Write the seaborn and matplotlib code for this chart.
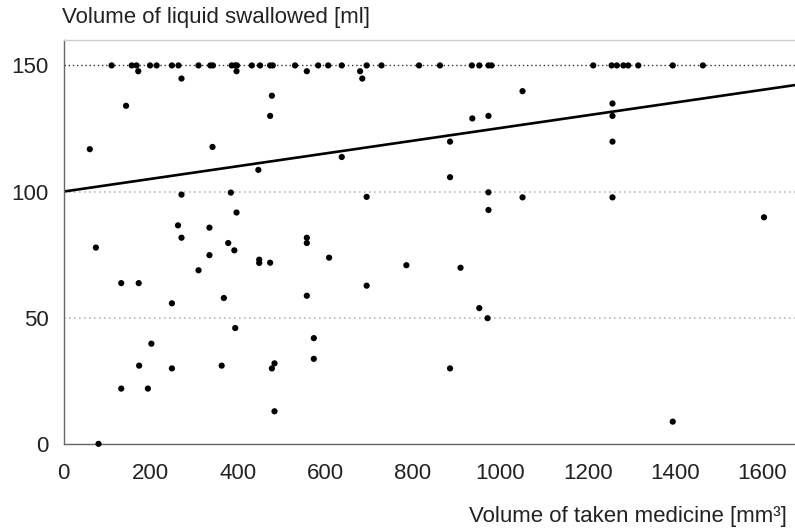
import matplotlib
matplotlib.use("Agg")
import matplotlib.pyplot as plt
import seaborn as sns
import numpy as np
import pandas as pd

# Data
medicine_top = [110, 156, 167, 198, 213, 248, 263, 309, 336, 342, 385, 393, 397,
                431, 450, 473, 479, 530, 583, 606, 637, 694, 728, 814, 862, 935,
                952, 973, 980, 1213, 1255, 1267, 1282, 1293, 1316, 1395, 1464]
liquid_top = [150] * len(medicine_top)

medicine_rest = [171, 270, 396, 557, 679, 684, 143, 477, 473, 60, 341, 637, 446,
                 270, 383, 396, 694,
                 1051, 936, 973, 1257, 1257, 1257, 885, 885, 973, 973, 1051, 1257, 1604,
                 74, 262, 334, 270, 377, 391, 334, 309, 448, 448, 473, 557, 557, 608,
                 785, 694, 557, 132, 172, 248, 367, 393, 573, 201, 173, 248, 362, 483,
                 477, 573, 132, 193, 483, 80,
                 909, 952, 971, 885, 1395]
liquid_rest = [147.7, 144.8, 147.7, 147.7, 147.7, 144.8, 134, 138, 130, 116.8, 117.7, 113.7, 108.6,
               98.8, 99.6, 91.7, 97.9,
               139.8, 129, 130, 134.9, 130, 119.8, 119.8, 105.7, 99.7, 92.7, 97.7, 97.7, 89.8,
               77.8, 86.6, 85.7, 81.7, 79.6, 76.7, 74.8, 68.8, 73, 71.7, 71.8, 81.7, 79.6, 73.8,
               70.8, 62.7, 58.7, 63.7, 63.7, 55.7, 57.8, 45.9, 41.9, 39.7, 31, 29.9, 31, 31.9,
               29.9, 33.7, 21.9, 21.9, 12.9, 0,
               69.8, 53.8, 49.8, 29.9, 8.8]

medicine = medicine_top + medicine_rest
liquid = liquid_top + liquid_rest

line_intercept = 100.0
line_slope = 0.0252

x_ticks = [0, 200, 400, 600, 800, 1000, 1200, 1400, 1600]
y_ticks = [0, 50, 100, 150]

df = pd.DataFrame({"medicine": medicine, "liquid": liquid})

sns.set_style("white")
plt.rcParams['font.family'] = ['Liberation Sans', 'DejaVu Sans']

fig = plt.figure(figsize=(7.95, 5.29), dpi=100)
ax = fig.add_axes([0.080, 0.161, 0.920, 0.763])

# gridlines
ax.axhline(50, color="#b8b8b8", lw=1.2, ls=(0, (1, 2)), zorder=1)
ax.axhline(100, color="#b8b8b8", lw=1.2, ls=(0, (1, 2)), zorder=1)
ax.axhline(150, color="#333333", lw=1.0, ls=(0, (1, 2)), zorder=1)

sns.scatterplot(data=df, x="medicine", y="liquid", ax=ax, color="black",
                s=20, edgecolor="none", zorder=3, clip_on=False)

xl = np.array([0, 1680])
sns.lineplot(x=xl, y=line_intercept + line_slope * xl, ax=ax, color="black",
             lw=1.9, zorder=2)

ax.set_xlim(0, 1675)
ax.set_ylim(0, 160)
ax.set_xticks(x_ticks)
ax.set_yticks(y_ticks)
ax.tick_params(axis="x", direction="out", length=8, width=1, color="#666666",
               labelsize=16, pad=6, labelcolor="#222222")
ax.tick_params(axis="y", length=0, labelsize=16, pad=11, labelcolor="#222222")

for side in ["left", "bottom"]:
    ax.spines[side].set_color("#666666")
    ax.spines[side].set_linewidth(1.0)
ax.spines["top"].set_color("#cccccc")
ax.spines["top"].set_linewidth(1.0)
ax.spines["right"].set_visible(False)

ax.set_xlabel("")
ax.set_ylabel("")
fig.text(0.078, 0.966, "Volume of liquid swallowed [ml]", fontsize=16,
         ha="left", va="center", color="#222222")
fig.text(0.990, 0.024, "Volume of taken medicine [mm³]", fontsize=16,
         ha="right", va="center", color="#222222")

fig.savefig("out.png", dpi=100)
